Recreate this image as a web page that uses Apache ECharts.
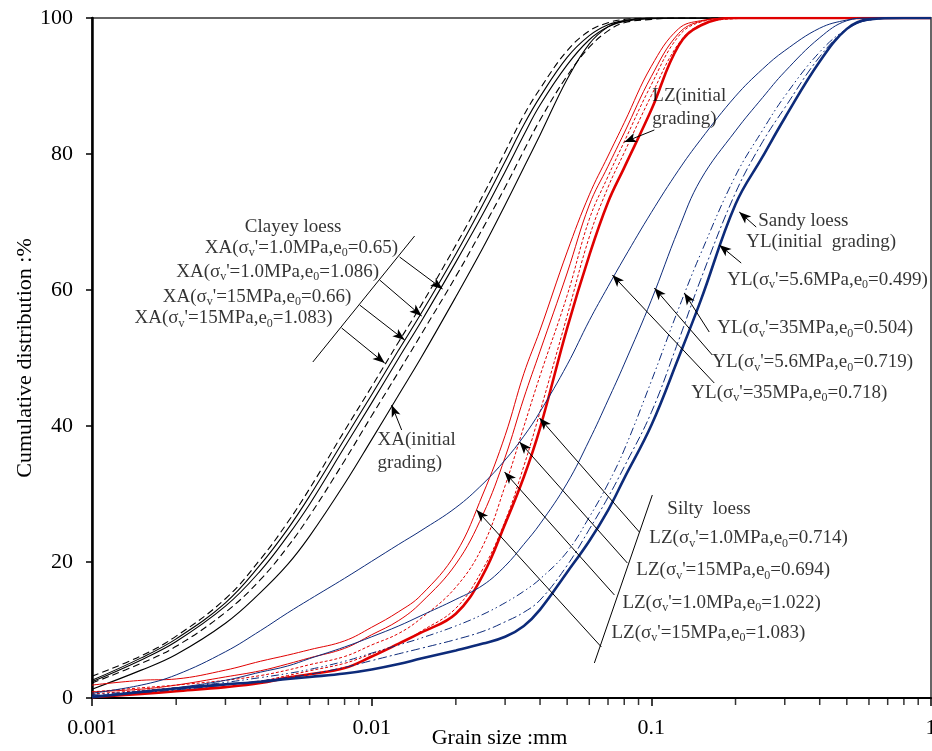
<!DOCTYPE html>
<html><head><meta charset="utf-8">
<script src="https://cdn.jsdelivr.net/npm/echarts@6/dist/echarts.min.js"></script>
<style>html,body{margin:0;padding:0;background:#fff}#c{width:932px;height:751px}</style>
</head><body><div id="c"></div>
<script>
// Grain sizes (mm) shared by all curves
const sizes = [0.001,0.0015,0.002,0.003,0.004,0.005,0.006,0.008,0.01,0.0125,0.015,0.02,0.025,0.03,0.035,0.04,0.05,0.06,0.07,0.08,0.1,0.125,0.15,0.2,0.25,0.3,0.4,0.5,0.6,0.8,1];

// Clayey loess (XA) – cumulative %
const XA_1p0_065  = [3.2,6.2,9.1,14.6,20.4,25.8,30.8,39.3,45.8,52.4,57.7,66.6,73.9,80.3,85.7,89.6,95.2,98.1,99.3,99.8,100,100,100,100,100,100,100,100,100,100,100];
const XA_1p0_1086 = [2.6,5.9,8.7,14.0,19.6,24.8,29.7,38.1,44.6,51.2,56.5,65.3,72.6,78.9,84.3,88.4,94.2,97.4,99.0,99.6,100,100,100,100,100,100,100,100,100,100,100];
const XA_15_066   = [2.4,5.6,8.3,13.5,18.7,23.8,28.5,36.9,43.4,50.0,55.3,64.1,71.2,77.4,82.8,87.2,93.1,96.8,98.7,99.5,99.9,100,100,100,100,100,100,100,100,100,100];
const XA_15_1083  = [2.2,5.1,7.6,12.6,17.4,22.2,26.8,34.9,41.5,48.0,53.4,62.0,69.1,75.1,80.5,85.0,91.5,95.7,98.1,99.3,99.8,100,100,100,100,100,100,100,100,100,100];
const XA_initial  = [1.3,4.1,6.4,11.0,15.5,19.6,23.8,31.5,38.0,44.6,50.0,59.0,66.2,72.5,78.0,82.8,91.0,96.2,98.7,99.6,100,100,100,100,100,100,100,100,100,100,100];

// Silty loess (LZ)
const LZ_15_1083  = [1.9,2.6,2.8,4.1,5.4,6.3,7.1,8.4,10.4,12.7,15.1,21.3,30.0,38.6,47.7,54.1,65.6,74.0,79.7,84.6,92.9,98.4,99.6,100,100,100,100,100,100,100,100];
const LZ_1p0_1022 = [0.9,1.3,1.9,3.1,4.0,5.0,5.9,7.3,9.3,11.4,14.0,19.7,27.0,35.4,44.1,51.0,62.5,72.5,78.2,83.1,91.4,97.7,99.5,100,100,100,100,100,100,100,100];
const LZ_15_0694  = [0.9,1.5,1.9,2.6,3.3,4.1,4.9,6.1,7.8,9.5,11.7,16.3,22.4,31.2,39.9,47.4,59.2,70.4,76.7,81.8,90.2,97.3,99.4,100,100,100,100,100,100,100,100];
const LZ_1p0_0714 = [0.6,1.1,1.5,2.0,2.5,3.3,4.0,5.1,6.5,8.0,9.8,13.2,19.0,26.0,34.1,42.1,56.2,67.8,75.1,80.2,88.6,96.2,99.0,99.9,100,100,100,100,100,100,100];
const LZ_initial  = [0.1,0.6,1.0,1.6,2.2,3.0,3.5,4.4,6.1,8.0,9.6,12.4,18.1,25.6,32.5,39.7,54.4,65.1,72.9,78.0,86.5,95.9,98.9,100,100,100,100,100,100,100,100];

// Sandy loess (YL)
const YL_35_0718  = [0.7,1.9,3.4,6.8,9.9,12.5,14.5,17.6,20.1,22.6,24.6,28.0,31.5,35.0,38.5,42.1,49.0,55.5,60.5,64.7,71.4,77.6,82.1,88.5,92.5,95.2,98.5,99.7,100,100,100];
const YL_5p6_0719 = [0.3,0.9,1.5,2.6,3.8,4.7,5.8,7.5,9.0,10.6,12.1,14.5,16.6,19.4,22.6,25.6,31.6,37.9,43.8,49.1,58.5,68.9,76.2,83.4,88.3,92.1,97.1,99.6,100,100,100];
const YL_35_0504  = [0.5,1.0,1.5,2.3,3.0,3.6,4.2,5.4,6.6,7.8,8.8,10.6,12.3,14.0,15.7,17.5,21.5,26.6,31.5,36.5,46.6,57.2,65.3,76.8,83.5,88.5,95.0,98.4,99.7,100,100];
const YL_5p6_0499 = [0.3,0.8,1.2,1.9,2.5,3.0,3.5,4.5,5.5,6.5,7.3,8.6,9.8,11.2,12.6,14.4,19.5,24.8,29.5,34.0,42.0,52.5,61.5,74.3,81.8,86.8,94.3,98.3,99.7,100,100];
const YL_initial  = [0.1,0.9,1.4,2.0,2.4,2.8,3.1,3.6,4.2,5.0,5.8,7.0,8.0,9.0,10.6,13.0,18.5,23.1,27.6,32.3,40.1,50.0,58.4,72.6,79.6,85.3,93.6,98.4,99.8,100,100];

// axis tick values
const yTicks = [0,20,40,60,80,100];
const minorTickSizes = [0.002,0.003,0.004,0.005,0.006,0.007,0.008,0.009,0.02,0.03,0.04,0.05,0.06,0.07,0.08,0.09,0.2,0.3,0.4,0.5,0.6,0.7,0.8,0.9];

// annotation texts and anchor points (data coords)
const labelTexts = [
  "Clayey loess",
  "XA(σ{s|v}'=1.0MPa,e{s|0}=0.65)",
  "XA(σ{s|v}'=1.0MPa,e{s|0}=1.086)",
  "XA(σ{s|v}'=15MPa,e{s|0}=0.66)",
  "XA(σ{s|v}'=15MPa,e{s|0}=1.083)",
  "XA(initial\ngrading)",
  "LZ(initial\ngrading)",
  "Sandy loess",
  "YL(initial  grading)",
  "YL(σ{s|v}'=5.6MPa,e{s|0}=0.499)",
  "YL(σ{s|v}'=35MPa,e{s|0}=0.504)",
  "YL(σ{s|v}'=5.6MPa,e{s|0}=0.719)",
  "YL(σ{s|v}'=35MPa,e{s|0}=0.718)",
  "Silty  loess",
  "LZ(σ{s|v}'=1.0MPa,e{s|0}=0.714)",
  "LZ(σ{s|v}'=15MPa,e{s|0}=0.694)",
  "LZ(σ{s|v}'=1.0MPa,e{s|0}=1.022)",
  "LZ(σ{s|v}'=15MPa,e{s|0}=1.083)"
];
const labelPos = [
  [0.00352,69.3],[0.00253,66.2],[0.0020,62.7],[0.00179,59.0],[0.00142,55.9],
  [0.0105,36.3],[0.1008,86.8],
  [0.2411,70.2],[0.2184,67.1],[0.1868,61.5],[0.172,54.4],[0.1652,49.4],[0.139,44.9],
  [0.1141,27.8],[0.0984,23.5],[0.0884,18.8],[0.0788,14.0],[0.072,9.6]
];
// arrows: [from, tip]
const arrowLines = [
  [[0.01259,64.85],[0.01793,60.15]],
  [[0.01068,61.47],[0.01509,56.18]],
  [[0.00906,57.79],[0.01312,52.65]],
  [[0.00781,54.41],[0.01113,49.26]],
  [[0.0128,39.41],[0.01179,43.09]],
  [[0.1025,83.53],[0.08009,81.76]],
  [[0.2371,69.26],[0.2062,71.47]],
  [[0.2096,63.97],[0.175,66.62]],
  [[0.1611,53.82],[0.1312,59.56]],
  [[0.1652,50.44],[0.1025,60.29]],
  [[0.1679,46.32],[0.07256,62.21]],
  [[0.0906,24.41],[0.03981,41.18]],
  [[0.08209,19.85],[0.03379,37.65]],
  [[0.07379,15.15],[0.02985,33.24]],
  [[0.06627,7.5],[0.02371,27.65]]
];
const guideLines = [
  [[0.00616,49.41],[0.01424,67.94]],
  [[0.1008,29.85],[0.06256,5.15]]
];

const FONT = "'Liberation Serif','Times New Roman',serif";
const BLACK = '#000000', RED = '#e00000', NAVY = '#0d2b7a';

function curve(name, ys, color, width, type) {
  return {
    type: 'line', name, data: sizes.map((x, i) => [x, ys[i]]),
    smooth: 0.4, showSymbol: false, symbol: 'none',
    lineStyle: { color, width, type: type || 'solid' }, silent: true, clip: true, z: 3
  };
}

const series = [
  curve('XA 1.0MPa 0.65', XA_1p0_065, BLACK, 1.1, [7, 4]),
  curve('XA 1.0MPa 1.086', XA_1p0_1086, BLACK, 1.1),
  curve('XA 15MPa 0.66', XA_15_066, BLACK, 1.1),
  curve('XA 15MPa 1.083', XA_15_1083, BLACK, 1.1, [7, 4]),
  curve('XA initial', XA_initial, BLACK, 1.1),
  curve('LZ 15MPa 1.083', LZ_15_1083, RED, 1),
  curve('LZ 1.0MPa 1.022', LZ_1p0_1022, RED, 1),
  curve('LZ 15MPa 0.694', LZ_15_0694, RED, 1, [3, 2]),
  curve('LZ 1.0MPa 0.714', LZ_1p0_0714, RED, 1, [3, 2]),
  curve('LZ initial', LZ_initial, RED, 2.6),
  curve('YL 35MPa 0.718', YL_35_0718, NAVY, 1),
  curve('YL 5.6MPa 0.719', YL_5p6_0719, NAVY, 1),
  curve('YL 35MPa 0.504', YL_35_0504, NAVY, 1, [8, 3, 1.5, 3, 1.5, 3]),
  curve('YL 5.6MPa 0.499', YL_5p6_0499, NAVY, 1, [9, 3, 2, 3]),
  curve('YL initial', YL_initial, NAVY, 2.6),
  {
    type: 'scatter', name: 'minorTicks', data: minorTickSizes.map(x => [x, 0]),
    symbol: 'rect', symbolSize: [1.5, 7], symbolOffset: [0, 3.5],
    itemStyle: { color: '#000' }, silent: true, clip: false, z: 10
  },
  {
    type: 'line', name: 'arrows', data: [], silent: true, z: 6,
    markLine: {
      silent: true, animation: false, symbol: ['none', 'arrow'], symbolSize: [7, 12],
      label: { show: false }, lineStyle: { color: '#000', width: 1, type: 'solid' },
      emphasis: { disabled: true },
      data: arrowLines.map(([a, b]) => [{ coord: a }, { coord: b }])
    }
  },
  {
    type: 'line', name: 'guides', data: [], silent: true, z: 6,
    markLine: {
      silent: true, animation: false, symbol: ['none', 'none'],
      label: { show: false }, lineStyle: { color: '#000', width: 1, type: 'solid' },
      emphasis: { disabled: true },
      data: guideLines.map(([a, b]) => [{ coord: a }, { coord: b }])
    }
  },
  {
    type: 'scatter', name: 'labels', symbolSize: 0, silent: true, clip: false, z: 8,
    data: labelPos.map((p, i) => ({ value: p, label: { formatter: labelTexts[i] } })),
    label: {
      show: true, position: 'right', distance: 0, color: '#000',
      fontFamily: FONT, fontSize: 19, lineHeight: 23,
      rich: { s: { fontFamily: FONT, fontSize: 12, lineHeight: 12, verticalAlign: 'bottom', color: '#000' } }
    }
  }
];

const chart = echarts.init(document.getElementById('c'), null, { renderer: 'canvas' });
chart.setOption({
  animation: false,
  backgroundColor: '#ffffff',
  textStyle: { fontFamily: FONT },
  grid: { left: 92, top: 18, width: 839, height: 680, show: true, borderColor: '#666', borderWidth: 2,
    backgroundColor: 'transparent', containLabel: false, outerBoundsMode: 'none' },
  xAxis: {
    type: 'log', logBase: 10, min: 0.001, max: 1, splitNumber: 3,
    name: 'Grain size :mm', nameLocation: 'middle', nameGap: 29, nameMoveOverlap: false,
    nameTextStyle: { fontFamily: FONT, fontSize: 22, color: '#000', padding: [0, 24, 0, 0] },
    axisLine: { lineStyle: { color: '#000', width: 2 } },
    axisTick: { show: true, length: 8, lineStyle: { color: '#000', width: 1.5 } },
    axisLabel: { fontFamily: FONT, fontSize: 22, color: '#000', margin: 19, formatter: v => String(+(+v).toPrecision(3)) },
    splitLine: { show: false }, minorTick: { show: false }
  },
  yAxis: {
    type: 'value', min: 0, max: 100, interval: 20,
    name: 'Cumulative distribution :%', nameLocation: 'middle', nameGap: 56, nameMoveOverlap: false,
    nameTextStyle: { fontFamily: FONT, fontSize: 22, color: '#000' },
    axisLine: { lineStyle: { color: '#000', width: 2.5 } },
    axisTick: { show: true, length: 6, lineStyle: { color: '#000', width: 1.5 } },
    axisLabel: { fontFamily: FONT, fontSize: 22, color: '#000', margin: 19,
      formatter: v => (yTicks.indexOf(v) >= 0 ? String(v) : '') },
    splitLine: { show: false }
  },
  tooltip: { show: false },
  series
});
</script>
</body></html>
